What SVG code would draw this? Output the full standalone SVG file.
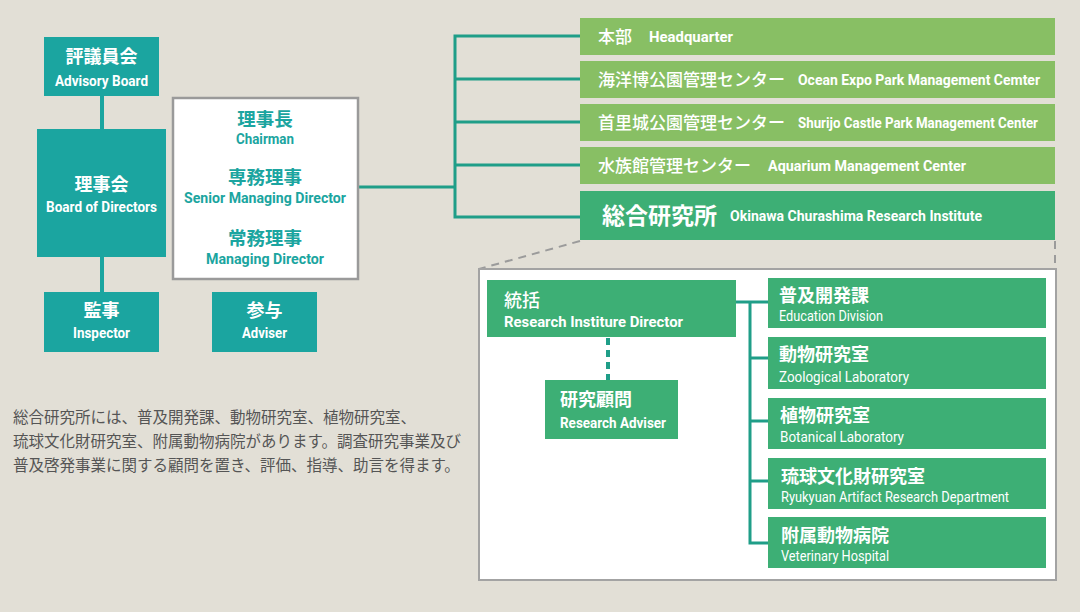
<svg xmlns="http://www.w3.org/2000/svg" width="1080" height="612" viewBox="0 0 1080 612">
<defs>
<style>
.bg{fill:#e2dfd6}
.teal{fill:#1ba5a0}
.lg{fill:#88bf64}
.dg{fill:#3daf75}
.jw{font-family:"Noto Sans CJK JP",sans-serif;font-weight:700;fill:#fff}
.jm{font-family:"Noto Sans CJK JP",sans-serif;font-weight:500;fill:#fff}
.jt{font-family:"Noto Sans CJK JP",sans-serif;font-weight:700;fill:#1ba5a0}
.ew{font-family:Roboto,"Liberation Sans",sans-serif;font-weight:700;fill:#fff}
.er{font-family:Roboto,"Liberation Sans",sans-serif;font-weight:400;fill:#fff}
.et{font-family:Roboto,"Liberation Sans",sans-serif;font-weight:700;fill:#1ba5a0}
.para{font-family:"Noto Sans CJK JP",sans-serif;font-weight:400;fill:#555;font-size:15.5px}
.c{text-anchor:middle}
.lt{stroke:#1ba5a0;stroke-width:4;fill:none}
.lr{stroke:#1f9e88;stroke-width:3;fill:none}
</style>
</defs>
<rect class="bg" x="0" y="0" width="1080" height="612"/>

<g id="connectors">
<line class="lt" x1="102" y1="96" x2="102" y2="129"/>
<line class="lt" x1="102" y1="257" x2="102" y2="292"/>
<line class="lr" x1="359" y1="187" x2="455" y2="187"/>
<path class="lr" d="M580 36H455V217H580M455 79H580M455 122H580M455 165H580"/>
<path d="M580 241L479 269M1055 241V269" stroke="#9b9b9b" stroke-width="2" stroke-dasharray="8 6" fill="none"/>
</g>

<g id="detail-frame">
<rect x="479" y="269" width="577" height="311" fill="#fff" stroke="#a3a3a3" stroke-width="2"/>
</g>

<g id="detail-connectors">
<path class="lr" d="M736 302H768M750 302V543H768M750 358H768M750 421H768M750 481H768"/>
<line x1="608" y1="338" x2="608" y2="380" stroke="#1f9e88" stroke-width="4" stroke-dasharray="7 5"/>
</g>

<g id="advisory-board">
<rect class="teal" x="44" y="37" width="115" height="59"/>
<text class="jw c" x="101.5" y="62.5" font-size="18">評議員会</text>
<text class="ew c" x="101.5" y="86" font-size="15" textLength="93" lengthAdjust="spacingAndGlyphs">Advisory Board</text>
</g>

<g id="board-of-directors">
<rect class="teal" x="37" y="129" width="129" height="128"/>
<text class="jw c" x="101.5" y="191" font-size="18">理事会</text>
<text class="ew c" x="101.5" y="212" font-size="15" textLength="111" lengthAdjust="spacingAndGlyphs">Board of Directors</text>
</g>

<g id="inspector">
<rect class="teal" x="44" y="292" width="115" height="60"/>
<text class="jw c" x="101.5" y="317" font-size="18">監事</text>
<text class="ew c" x="101.5" y="338" font-size="15" textLength="57" lengthAdjust="spacingAndGlyphs">Inspector</text>
</g>

<g id="adviser">
<rect class="teal" x="212" y="292" width="105" height="60"/>
<text class="jw c" x="264.5" y="317" font-size="18">参与</text>
<text class="ew c" x="264.5" y="338" font-size="15" textLength="45" lengthAdjust="spacingAndGlyphs">Adviser</text>
</g>

<g id="executives">
<rect x="173" y="98" width="185" height="181" fill="#fff" stroke="#9a9a9a" stroke-width="2.5"/>
<text class="jt c" x="265" y="126" font-size="18.5">理事長</text>
<text class="et c" x="265" y="144" font-size="14.5" textLength="58" lengthAdjust="spacingAndGlyphs">Chairman</text>
<text class="jt c" x="265" y="184" font-size="18.5">専務理事</text>
<text class="et c" x="265" y="203" font-size="14.5" textLength="162" lengthAdjust="spacingAndGlyphs">Senior Managing Director</text>
<text class="jt c" x="265" y="245" font-size="18.5">常務理事</text>
<text class="et c" x="265" y="264" font-size="14.5" textLength="118" lengthAdjust="spacingAndGlyphs">Managing Director</text>
</g>

<g id="headquarter">
<rect class="lg" x="580" y="18" width="475" height="37"/>
<text class="jm" x="598" y="42.5" font-size="17">本部</text>
<text class="ew" x="649" y="42" font-size="14" textLength="84" lengthAdjust="spacingAndGlyphs">Headquarter</text>
</g>

<g id="ocean-expo">
<rect class="lg" x="580" y="61" width="475" height="37"/>
<text class="jm" x="598" y="85.5" font-size="17">海洋博公園管理センター</text>
<text class="ew" x="798" y="85" font-size="14" textLength="242" lengthAdjust="spacingAndGlyphs">Ocean Expo Park Management Cemter</text>
</g>

<g id="shurijo">
<rect class="lg" x="580" y="104" width="475" height="37"/>
<text class="jm" x="598" y="128.5" font-size="17">首里城公園管理センター</text>
<text class="ew" x="798" y="128" font-size="14" textLength="240" lengthAdjust="spacingAndGlyphs">Shurijo Castle Park Management Center</text>
</g>

<g id="aquarium">
<rect class="lg" x="580" y="147" width="475" height="37"/>
<text class="jm" x="598" y="171.5" font-size="17">水族館管理センター</text>
<text class="ew" x="768" y="171" font-size="14" textLength="198" lengthAdjust="spacingAndGlyphs">Aquarium Management Center</text>
</g>

<g id="research-institute">
<rect class="dg" x="580" y="191" width="475" height="49"/>
<text class="jw" x="602" y="224" font-size="23">総合研究所</text>
<text class="ew" x="730" y="221" font-size="14" textLength="252" lengthAdjust="spacingAndGlyphs">Okinawa Churashima Research Institute</text>
</g>

<g id="director">
<rect class="dg" x="487" y="280" width="249" height="57"/>
<text class="jm" x="504" y="307" font-size="18">統括</text>
<text class="ew" x="504" y="327" font-size="15.5" textLength="179" lengthAdjust="spacingAndGlyphs">Research Institure Director</text>
</g>

<g id="research-adviser">
<rect class="dg" x="545" y="380" width="133" height="59"/>
<text class="jw" x="560" y="406" font-size="18">研究顧問</text>
<text class="ew" x="560" y="428" font-size="14.5" textLength="106" lengthAdjust="spacingAndGlyphs">Research Adviser</text>
</g>

<g id="education">
<rect class="dg" x="768" y="278" width="278" height="50"/>
<text class="jw" x="779" y="301.5" font-size="18">普及開発課</text>
<text class="er" x="779" y="321" font-size="14" textLength="104" lengthAdjust="spacingAndGlyphs">Education Division</text>
</g>

<g id="zoology">
<rect class="dg" x="768" y="337" width="278" height="52"/>
<text class="jw" x="779" y="361" font-size="18">動物研究室</text>
<text class="er" x="779" y="382" font-size="14" textLength="130" lengthAdjust="spacingAndGlyphs">Zoological Laboratory</text>
</g>

<g id="botany">
<rect class="dg" x="768" y="398" width="278" height="51"/>
<text class="jw" x="780" y="422" font-size="18">植物研究室</text>
<text class="er" x="780" y="442" font-size="14" textLength="124" lengthAdjust="spacingAndGlyphs">Botanical Laboratory</text>
</g>

<g id="ryukyu">
<rect class="dg" x="768" y="458" width="278" height="51"/>
<text class="jw" x="781" y="483" font-size="18">琉球文化財研究室</text>
<text class="er" x="781" y="502" font-size="14" textLength="228" lengthAdjust="spacingAndGlyphs">Ryukyuan Artifact Research Department</text>
</g>

<g id="veterinary">
<rect class="dg" x="768" y="517" width="278" height="51"/>
<text class="jw" x="781" y="542" font-size="18">附属動物病院</text>
<text class="er" x="781" y="561" font-size="14" textLength="108" lengthAdjust="spacingAndGlyphs">Veterinary Hospital</text>
</g>

<g id="description">
<text class="para" x="13" y="423">総合研究所には、普及開発課、動物研究室、植物研究室、</text>
<text class="para" x="13" y="447">琉球文化財研究室、附属動物病院があります。調査研究事業及び</text>
<text class="para" x="13" y="471">普及啓発事業に関する顧問を置き、評価、指導、助言を得ます。</text>
</g>
</svg>
